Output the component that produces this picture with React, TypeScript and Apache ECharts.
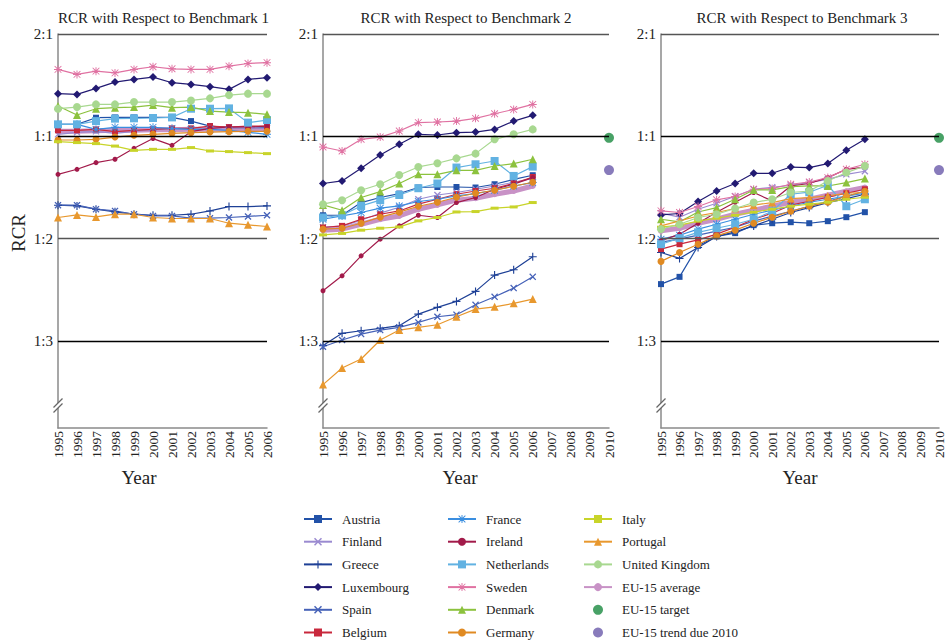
import React, { useEffect, useRef } from 'react';
import * as echarts from 'echarts';

// ---------- data ----------
const YEARS_B1 = ['1995', '1996', '1997', '1998', '1999', '2000', '2001', '2002', '2003', '2004', '2005', '2006'];
const YEARS_B23 = [...YEARS_B1, '2007', '2008', '2009', '2010'];

// RCR scale: 2:1 -> 1, 1:1 -> 0, 1:2 -> -1, 1:3 -> -2
const Y_TICKS = [1, 0, -1, -2];
const Y_TICK_LABELS = ['2:1', '1:1', '1:2', '1:3'];

const TITLES = ['RCR with Respect to Benchmark 1', 'RCR with Respect to Benchmark 2', 'RCR with Respect to Benchmark 3'];

const COUNTRIES = [
  'Austria', 'Finland', 'Greece', 'Luxembourg', 'Spain', 'Belgium',
  'France', 'Ireland', 'Netherlands', 'Sweden', 'Denmark', 'Germany',
  'Italy', 'Portugal', 'United Kingdom', 'EU-15 average',
];

const BENCH1: Record<string, number[]> = {
  Austria: [0.117, 0.117, 0.182, 0.185, 0.185, 0.185, 0.185, 0.149, 0.1, 0.085, 0.085, 0.085],
  Finland: [0.02, 0.039, 0.049, 0.029, 0.049, 0.068, 0.068, 0.068, 0.078, 0.088, 0.088, 0.078],
  Greece: [-0.673, -0.68, -0.712, -0.738, -0.761, -0.771, -0.771, -0.761, -0.729, -0.686, -0.686, -0.68],
  Luxembourg: [0.417, 0.41, 0.468, 0.53, 0.556, 0.579, 0.524, 0.507, 0.485, 0.459, 0.556, 0.573],
  Spain: [-0.673, -0.673, -0.712, -0.729, -0.761, -0.778, -0.778, -0.8, -0.8, -0.793, -0.783, -0.771],
  Belgium: [0.059, 0.059, 0.068, 0.046, 0.059, 0.068, 0.078, 0.078, 0.1, 0.09, 0.1, 0.1],
  France: [0.117, 0.117, 0.068, 0.088, 0.088, 0.088, 0.078, 0.068, 0.068, 0.059, 0.039, 0.02],
  Ireland: [-0.371, -0.322, -0.257, -0.224, -0.117, -0.022, -0.088, 0.046, 0.078, 0.091, 0.091, 0.1],
  Netherlands: [0.117, 0.117, 0.149, 0.173, 0.176, 0.179, 0.185, 0.27, 0.27, 0.273, 0.134, 0.159],
  Sweden: [0.654, 0.605, 0.637, 0.62, 0.654, 0.68, 0.66, 0.654, 0.654, 0.686, 0.712, 0.72],
  Denmark: [0.296, 0.208, 0.27, 0.28, 0.286, 0.305, 0.28, 0.286, 0.247, 0.237, 0.231, 0.215],
  Germany: [-0.036, -0.036, -0.029, -0.007, 0.01, 0.02, 0.029, 0.036, 0.042, 0.046, 0.049, 0.049],
  Italy: [-0.052, -0.061, -0.071, -0.095, -0.137, -0.127, -0.127, -0.11, -0.143, -0.149, -0.159, -0.169],
  Portugal: [-0.793, -0.768, -0.787, -0.761, -0.761, -0.793, -0.803, -0.803, -0.803, -0.849, -0.865, -0.881],
  'United Kingdom': [0.27, 0.286, 0.312, 0.312, 0.335, 0.335, 0.335, 0.351, 0.371, 0.403, 0.417, 0.417],
  'EU-15 average': [0.05, 0.05, 0.055, 0.06, 0.06, 0.065, 0.065, 0.07, 0.07, 0.075, 0.07, 0.07],
};

const BENCH2: Record<string, number[]> = {
  Austria: [-0.771, -0.771, -0.647, -0.598, -0.559, -0.5, -0.495, -0.495, -0.5, -0.468, -0.42, -0.38],
  Finland: [-0.888, -0.878, -0.82, -0.751, -0.693, -0.615, -0.573, -0.549, -0.517, -0.485, -0.449, -0.41],
  Greece: [-2.045, -1.925, -1.9, -1.876, -1.85, -1.737, -1.671, -1.613, -1.515, -1.356, -1.304, -1.177],
  Luxembourg: [-0.461, -0.436, -0.312, -0.182, -0.078, 0.02, 0.013, 0.036, 0.042, 0.068, 0.149, 0.205],
  Spain: [-2.056, -1.99, -1.932, -1.893, -1.866, -1.818, -1.763, -1.743, -1.646, -1.568, -1.483, -1.373],
  Belgium: [-0.891, -0.875, -0.81, -0.761, -0.729, -0.663, -0.615, -0.566, -0.534, -0.507, -0.461, -0.397],
  France: [-0.81, -0.778, -0.744, -0.702, -0.68, -0.637, -0.615, -0.582, -0.559, -0.527, -0.485, -0.452],
  Ireland: [-1.509, -1.363, -1.168, -1.005, -0.875, -0.771, -0.793, -0.647, -0.598, -0.517, -0.468, -0.403],
  Netherlands: [-0.793, -0.771, -0.68, -0.624, -0.573, -0.507, -0.461, -0.305, -0.273, -0.241, -0.387, -0.296],
  Sweden: [-0.104, -0.143, -0.029, -0.007, 0.052, 0.134, 0.14, 0.149, 0.176, 0.221, 0.263, 0.312],
  Denmark: [-0.67, -0.722, -0.598, -0.54, -0.461, -0.371, -0.371, -0.332, -0.332, -0.29, -0.266, -0.224],
  Germany: [-0.907, -0.898, -0.849, -0.79, -0.741, -0.683, -0.644, -0.595, -0.556, -0.527, -0.488, -0.449],
  Italy: [-0.963, -0.949, -0.917, -0.898, -0.885, -0.826, -0.793, -0.739, -0.735, -0.702, -0.69, -0.647],
  Portugal: [-2.426, -2.263, -2.176, -1.99, -1.893, -1.866, -1.841, -1.763, -1.688, -1.666, -1.632, -1.59],
  'United Kingdom': [-0.663, -0.624, -0.527, -0.468, -0.378, -0.299, -0.263, -0.215, -0.169, -0.029, 0.02, 0.068],
  'EU-15 average': [-0.917, -0.907, -0.859, -0.81, -0.778, -0.712, -0.67, -0.624, -0.605, -0.566, -0.534, -0.485],
};

const BENCH3: Record<string, number[]> = {
  Austria: [-1.444, -1.373, -1.07, -0.978, -0.946, -0.868, -0.849, -0.839, -0.849, -0.829, -0.79, -0.741],
  Finland: [-0.751, -0.79, -0.712, -0.654, -0.585, -0.517, -0.498, -0.478, -0.449, -0.42, -0.371, -0.341],
  Greece: [-1.135, -1.193, -1.086, -0.978, -0.934, -0.875, -0.81, -0.744, -0.696, -0.647, -0.608, -0.566],
  Luxembourg: [-0.768, -0.754, -0.637, -0.534, -0.461, -0.361, -0.361, -0.3, -0.305, -0.266, -0.137, -0.029],
  Spain: [-1.034, -1.005, -0.966, -0.927, -0.888, -0.829, -0.78, -0.732, -0.683, -0.634, -0.585, -0.537],
  Belgium: [-1.102, -1.054, -1.012, -0.956, -0.888, -0.81, -0.751, -0.673, -0.634, -0.595, -0.556, -0.517],
  France: [-1.005, -0.966, -0.907, -0.859, -0.81, -0.761, -0.722, -0.683, -0.644, -0.615, -0.585, -0.556],
  Ireland: [-1.02, -0.956, -0.849, -0.741, -0.644, -0.549, -0.631, -0.485, -0.461, -0.403, -0.322, -0.3],
  Netherlands: [-1.054, -0.995, -0.939, -0.898, -0.859, -0.81, -0.732, -0.566, -0.546, -0.478, -0.683, -0.615],
  Sweden: [-0.728, -0.744, -0.686, -0.62, -0.588, -0.517, -0.51, -0.468, -0.446, -0.403, -0.322, -0.273],
  Denmark: [-0.81, -0.836, -0.739, -0.696, -0.615, -0.524, -0.524, -0.491, -0.485, -0.485, -0.452, -0.413],
  Germany: [-1.222, -1.135, -1.054, -0.973, -0.917, -0.849, -0.79, -0.732, -0.683, -0.644, -0.585, -0.537],
  Italy: [-0.888, -0.868, -0.829, -0.8, -0.771, -0.741, -0.712, -0.683, -0.663, -0.644, -0.615, -0.595],
  Portugal: [-0.875, -0.826, -0.778, -0.744, -0.705, -0.673, -0.647, -0.608, -0.598, -0.582, -0.556, -0.549],
  'United Kingdom': [-0.907, -0.859, -0.793, -0.761, -0.705, -0.647, -0.615, -0.549, -0.534, -0.436, -0.354, -0.29],
  'EU-15 average': [-0.924, -0.898, -0.849, -0.81, -0.761, -0.722, -0.683, -0.644, -0.615, -0.576, -0.537, -0.5],
};

const EU_TARGET_2010 = -0.015;
const EU_TREND_2010 = -0.33;

// ---------- styles ----------
const FONT = 'Liberation Serif, Times New Roman, serif';
const X_SYM = 'path://M1.3,0 L5,3.7 L8.7,0 L10,1.3 L6.3,5 L10,8.7 L8.7,10 L5,6.3 L1.3,10 L0,8.7 L3.7,5 L0,1.3 Z';
const PLUS_SYM = 'path://M4.3,0 H5.7 V4.3 H10 V5.7 H5.7 V10 H4.3 V5.7 H0 V4.3 H4.3 Z';
const STAR_SYM = 'path://M4.4,0 H5.6 V4.4 H10 V5.6 H5.6 V10 H4.4 V5.6 H0 V4.4 H4.4 Z M1.2,0.4 L5,4.2 L8.8,0.4 L9.6,1.2 L5.8,5 L9.6,8.8 L8.8,9.6 L5,5.8 L1.2,9.6 L0.4,8.8 L4.2,5 L0.4,1.2 Z';

const STYLE: Record<string, { color: string; symbol: string; size: number | number[]; width?: number }> = {
  Austria: { color: '#2252a8', symbol: 'rect', size: 6 },
  Finland: { color: '#9a8ad0', symbol: X_SYM, size: 7 },
  Greece: { color: '#1e4096', symbol: PLUS_SYM, size: 8 },
  Luxembourg: { color: '#221a72', symbol: 'diamond', size: 8 },
  Spain: { color: '#4662b8', symbol: X_SYM, size: 7 },
  Belgium: { color: '#c8283c', symbol: 'rect', size: 6 },
  France: { color: '#3a8ee0', symbol: STAR_SYM, size: 8 },
  Ireland: { color: '#a21a4a', symbol: 'circle', size: 5 },
  Netherlands: { color: '#62b2e2', symbol: 'rect', size: 8 },
  Sweden: { color: '#e072a2', symbol: STAR_SYM, size: 8 },
  Denmark: { color: '#8cc23e', symbol: 'triangle', size: 8 },
  Germany: { color: '#e08a22', symbol: 'circle', size: 7 },
  Italy: { color: '#c8d42a', symbol: 'rect', size: [8, 3] },
  Portugal: { color: '#e8982e', symbol: 'triangle', size: 8 },
  'United Kingdom': { color: '#a8d890', symbol: 'circle', size: 8 },
  'EU-15 average': { color: '#c892c6', symbol: 'circle', size: 6, width: 5 },
};
const TARGET_COLOR = '#1a8a40';
const TREND_COLOR = '#6a5aaa';

const GRID_TOP = 34;
const GRID_H = 394;
const Y_MIN = -2.85;
const Y_MAX = 1;
const BREAK_AT = -2.625;
const GRIDS = [
  { left: 58, width: 209, titleX: 163.5, yearX: 139 },
  { left: 323, width: 286, titleX: 466, yearX: 460 },
  { left: 661, width: 280, titleX: 802, yearX: 800 },
];
const GRID_LINE_COLORS = ['#555', '#000', '#555', '#000'];

function yPix(v: number) {
  return GRID_TOP + ((Y_MAX - v) / (Y_MAX - Y_MIN)) * GRID_H;
}

export default function App() {
  const ref = useRef<HTMLDivElement>(null);

  useEffect(() => {
    if (!ref.current) return;
    const chart = echarts.init(ref.current, undefined, { renderer: 'svg' });
    const benches = [BENCH1, BENCH2, BENCH3];

    const series: any[] = [];
    benches.forEach((bench, gi) => {
      series.push({
        type: 'line',
        name: '__grid' + gi,
        xAxisIndex: gi,
        yAxisIndex: gi,
        data: [],
        silent: true,
        z: 1,
        markLine: {
          symbol: 'none',
          silent: true,
          label: { show: false },
          emphasis: { disabled: true },
          data: Y_TICKS.map((v, i) => ({
            yAxis: v,
            lineStyle: { color: GRID_LINE_COLORS[i], width: 1.3, type: 'solid' },
          })),
        },
      });
      COUNTRIES.forEach((name) => {
        const st = STYLE[name];
        series.push({
          type: 'line',
          name,
          xAxisIndex: gi,
          yAxisIndex: gi,
          data: bench[name],
          symbol: st.symbol,
          symbolSize: st.size,
          showSymbol: true,
          lineStyle: { color: st.color, width: st.width ?? 1.2 },
          itemStyle: { color: st.color },
          emphasis: { disabled: true },
          z: name === 'EU-15 average' ? 1.5 : 2,
        });
      });
      if (gi > 0) {
        series.push({
          type: 'scatter',
          name: 'EU-15 target',
          xAxisIndex: gi,
          yAxisIndex: gi,
          data: [['2010', EU_TARGET_2010]],
          symbolSize: 10,
          itemStyle: { color: TARGET_COLOR },
          z: 4,
        });
        series.push({
          type: 'scatter',
          name: 'EU-15 trend due 2010',
          xAxisIndex: gi,
          yAxisIndex: gi,
          data: [['2010', EU_TREND_2010]],
          symbolSize: 10,
          itemStyle: { color: TREND_COLOR },
          z: 4,
        });
      }
    });

    const legendCols = [
      { left: 303, data: ['Austria', 'Finland', 'Greece', 'Luxembourg', 'Spain', 'Belgium'] },
      { left: 447, data: ['France', 'Ireland', 'Netherlands', 'Sweden', 'Denmark', 'Germany'] },
      { left: 583, data: ['Italy', 'Portugal', 'United Kingdom', 'EU-15 average', 'EU-15 target', 'EU-15 trend due 2010'] },
    ];

    const graphic: any[] = [];
    GRIDS.forEach((g) => {
      const x = g.left;
      const y = yPix(BREAK_AT);
      graphic.push({
        type: 'polygon',
        z: 100,
        shape: { points: [[x - 4, y + 2], [x + 4, y - 6], [x + 4, y - 1], [x - 4, y + 7]] },
        style: { fill: '#fff' },
      });
      graphic.push({
        type: 'line', z: 101,
        shape: { x1: x - 4.5, y1: y + 2.5, x2: x + 4.5, y2: y - 6.5 },
        style: { stroke: '#666', lineWidth: 1.2 },
      });
      graphic.push({
        type: 'line', z: 101,
        shape: { x1: x - 4.5, y1: y + 7.5, x2: x + 4.5, y2: y - 1.5 },
        style: { stroke: '#666', lineWidth: 1.2 },
      });
      graphic.push({
        type: 'text', z: 101,
        x: g.yearX, y: 477,
        style: { text: 'Year', font: '19px ' + FONT, fill: '#222', align: 'center', verticalAlign: 'middle' },
      });
    });
    graphic.push({
      type: 'text', z: 101,
      x: 18, y: 233, rotation: Math.PI / 2,
      style: { text: 'RCR', font: '19px ' + FONT, fill: '#222', align: 'center', verticalAlign: 'middle' },
    });

    chart.setOption({
      animation: false,
      backgroundColor: '#fff',
      textStyle: { fontFamily: FONT },
      title: GRIDS.map((g, i) => ({
        text: TITLES[i],
        left: g.titleX,
        top: 10,
        textAlign: 'center',
        padding: 0,
        textStyle: { fontFamily: FONT, fontSize: 15, fontWeight: 'normal', color: '#222' },
      })),
      grid: GRIDS.map((g) => ({ left: g.left, width: g.width, top: GRID_TOP, height: GRID_H, containLabel: false })),
      xAxis: GRIDS.map((g, i) => ({
        type: 'category',
        gridIndex: i,
        data: i === 0 ? YEARS_B1 : YEARS_B23,
        boundaryGap: false,
        axisLine: { show: true, onZero: false, lineStyle: { color: '#8a8a8a', width: 1.5 } },
        axisTick: { show: false },
        splitLine: { show: false },
        axisLabel: { interval: 0, rotate: 90, margin: 3, fontFamily: FONT, fontSize: 13.5, color: '#222' },
      })),
      yAxis: GRIDS.map((g, i) => ({
        type: 'value',
        gridIndex: i,
        min: Y_MIN,
        max: Y_MAX,
        axisLine: { show: true, lineStyle: { color: '#8a8a8a', width: 1.5 } },
        axisTick: { show: false },
        splitLine: { show: false },
        axisLabel: {
          margin: 5,
          fontFamily: FONT,
          fontSize: 15,
          color: '#222',
          formatter: (v: number) => {
            const idx = Y_TICKS.findIndex((t) => Math.abs(t - v) < 1e-6);
            return idx >= 0 ? Y_TICK_LABELS[idx] : '';
          },
        },
      })),
      legend: legendCols.map((c) => ({
        orient: 'vertical',
        left: c.left,
        top: 512,
        itemWidth: 28,
        itemHeight: 10,
        itemGap: 8.7,
        padding: 0,
        data: c.data,
        textStyle: { fontFamily: FONT, fontSize: 13, color: '#222', lineHeight: 14, padding: [0, 0, 0, 5] },
      })),
      graphic,
      series,
    });

    return () => chart.dispose();
  }, []);

  return (
    <div
      ref={ref}
      style={{ position: 'fixed', left: 0, top: 0, width: 946, height: 641, background: '#fff' }}
    />
  );
}
